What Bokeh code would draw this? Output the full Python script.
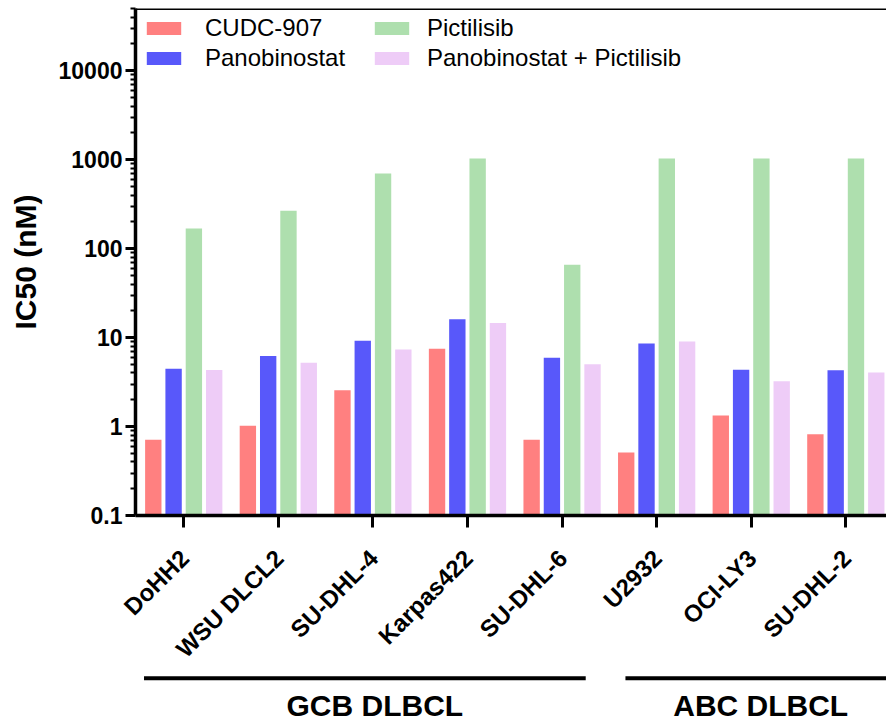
from math import pi
import numpy as np
from bokeh.plotting import figure
from bokeh.models import (Range1d, FixedTicker, Legend, LegendItem, Span, ColumnDataSource)
from bokeh.core.properties import value
from bokeh.embed import file_html
from bokeh.resources import INLINE

# ---- data ----
cells = ["DoHH2", "WSU DLCL2", "SU-DHL-4", "Karpas422", "SU-DHL-6",
         "U2932", "OCI-LY3", "SU-DHL-2"]
cudc907 = [0.71, 1.02, 2.55, 7.5, 0.71, 0.51, 1.33, 0.82]
panobinostat = [4.47, 6.19, 9.23, 16.1, 5.94, 8.6, 4.35, 4.28]
pictilisib = [168, 267, 698, 1028, 66, 1028, 1028, 1028]
combo = [4.31, 5.22, 7.36, 14.6, 5.0, 9.06, 3.22, 4.06]
series_names = ["CUDC-907", "Panobinostat", "Pictilisib", "Panobinostat + Pictilisib"]
series_values = [cudc907, panobinostat, pictilisib, combo]
colors = ["#FF8080", "#5858FA", "#AEDFAE", "#EECCF7"]
group_names = ["GCB DLBCL", "ABC DLBCL"]
group_first = [0, 5]
group_last = [4, 7]
y_ticks = [0.1, 1, 10, 100, 1000, 10000]

FONT = "Liberation Sans"
BOTTOM = 0.1
TOP = 50000
W = 886
MAIN_H = 535
LEFT = 135
X0, X1 = -0.51, 7.43
PX_PER_UNIT = (W - LEFT) / (X1 - X0)

p = figure(width=W, height=MAIN_H, output_backend="svg", toolbar_location=None,
           y_axis_type="log",
           x_range=Range1d(X0, X1), y_range=Range1d(BOTTOM, TOP),
           min_border_left=LEFT, min_border_top=8, min_border_right=0,
           min_border_bottom=20)
p.grid.visible = False
p.outline_line_color = None
p.background_fill_color = "white"
p.border_fill_color = "white"

x_idx = np.arange(len(cells))
step = 0.2146
bar_w = 0.173
offsets = [-1.5 * step, -0.5 * step, 0.5 * step, 1.5 * step]
renderers = []
for name, vals, col, off in zip(series_names, series_values, colors, offsets):
    src = ColumnDataSource(dict(x=x_idx + off, top=vals, bottom=[BOTTOM] * len(vals)))
    r = p.vbar(x="x", top="top", bottom="bottom", width=bar_w, source=src,
               fill_color=col, line_color=None)
    renderers.append(r)

# x axis (ticks only; rotated labels are drawn in the strip below)
xa = p.xaxis[0]
xa.ticker = FixedTicker(ticks=list(x_idx))
xa.major_label_overrides = {int(i): "" for i in x_idx}
xa.major_label_text_font_size = "1px"
xa.major_label_standoff = 0
xa.axis_line_width = 3.5
xa.axis_line_color = "black"
xa.major_tick_line_width = 3
xa.major_tick_in = 0
xa.major_tick_out = 12
xa.minor_tick_line_color = None

# y axis
ya = p.yaxis[0]
ya.ticker = FixedTicker(ticks=y_ticks,
                        minor_ticks=[m * 10 ** k for k in range(-1, 5) for m in range(2, 10)])
ya.major_label_overrides = {t: (f"{t:g}" if t < 1 else f"{int(t)}") for t in y_ticks}
ya.major_label_text_font = FONT
ya.major_label_text_font_style = "bold"
ya.major_label_text_font_size = "23px"
ya.major_label_text_color = "black"
ya.major_label_standoff = 3
ya.axis_line_width = 3.5
ya.axis_line_color = "black"
ya.major_tick_line_width = 3
ya.major_tick_in = 0
ya.major_tick_out = 10
ya.minor_tick_line_width = 2
ya.minor_tick_in = 0
ya.minor_tick_out = 5
ya.axis_label = "IC50 (nM)"
ya.axis_label_text_font = FONT
ya.axis_label_text_font_style = "bold"
ya.axis_label_text_font_size = "30px"
ya.axis_label_text_color = "black"
ya.axis_label_standoff = 14

# top frame line
p.add_layout(Span(location=TOP, dimension="width", line_color="black", line_width=3))

# legends
def make_legend(items, xloc, standoff):
    return Legend(items=items, location=(xloc, 443), orientation="vertical",
                  glyph_width=43, glyph_height=16, label_standoff=standoff,
                  label_text_font=FONT, label_text_font_size="24px",
                  label_text_color="black", spacing=2, padding=0, margin=0,
                  border_line_color=None, background_fill_alpha=0)

leg1 = make_legend([LegendItem(label=series_names[i], renderers=[renderers[i]]) for i in (0, 1)], 7, 20)
leg2 = make_legend([LegendItem(label=series_names[i], renderers=[renderers[i]]) for i in (2, 3)], 235, 14)
p.add_layout(leg1, "center")
p.add_layout(leg2, "center")

# ---- strip below: rotated category labels, group brackets and group labels ----
# separate root with a full-width frame; x range aligned to the main plot's x scale
STRIP_H = 722 - MAIN_H
p2 = figure(width=W, height=STRIP_H, output_backend="svg", toolbar_location=None,
            x_range=Range1d(X0 - LEFT / PX_PER_UNIT, X1), y_range=Range1d(0, STRIP_H),
            min_border_left=0, min_border_right=0, min_border_top=0, min_border_bottom=0)
p2.axis.visible = False
p2.grid.visible = False
p2.outline_line_color = None
p2.background_fill_color = "white"
p2.border_fill_color = "white"

# category labels, rotated 45 degrees, ending just right of each tick
p2.text(x=x_idx - 0.092, y=[STRIP_H - 9] * len(cells), text=cells, angle=pi / 4,
        text_align="right", text_baseline="top", text_font=value(FONT),
        text_font_style="bold", text_font_size="24px", text_color="black")

g_x0 = [a - 0.42 if a == 0 else a - 0.33 for a in group_first]
g_x1 = [b + 0.25 if b < len(cells) - 1 else b + 0.6 for b in group_last]
g_mid = [(a + b) / 2 + (0.02 if a == 0 else 0.1) for a, b in zip(group_first, group_last)]
line_y = 44.3
text_y = 17
p2.segment(x0=g_x0, x1=g_x1, y0=[line_y] * 2, y1=[line_y] * 2,
           line_color="black", line_width=4)
p2.text(x=g_mid, y=[text_y] * 2, text=group_names, text_align="center",
        text_baseline="alphabetic", text_font=value(FONT), text_font_style="bold",
        text_font_size="30px", text_color="black")

open("out.html", "w").write(file_html([p, p2], INLINE))
